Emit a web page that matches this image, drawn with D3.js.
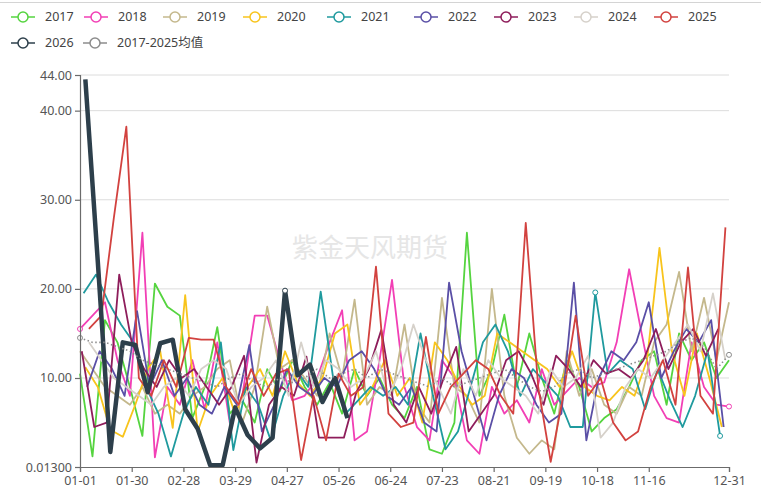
<!DOCTYPE html>
<html>
<head>
<meta charset="utf-8">
<script src="https://cdn.jsdelivr.net/npm/d3@7"></script>
<style>
  body { margin: 0; background: #fff; }
  svg text { font-family: "Noto Sans", "Noto Sans CJK SC", sans-serif; }
</style>
</head>
<body>
<div id="chart"></div>
<script>
// weekly values
var names = ['2017', '2018', '2019', '2020', '2021', '2022', '2023', '2024', '2025', '2026', '2017-2025均值']
var colors = ['#55d43f', '#f23fb5', '#c4b88c', '#f8c41c', '#1f9a9e', '#5a4fa6', '#8e1d5b', '#d6d1ca', '#d2423f', '#2d3f4b', '#8c8c8c']
var startDays = [0, 0, 0, 3, 2, 4, 1, 5, 5, 3, 0]

var v2017 = [10.5, 1.2, 16.5, 14, 9, 3.5, 20.6, 18, 17, 5.5, 9, 15.7, 6, 7.5, 5, 11, 8.5, 12, 9, 7, 9.5, 6, 11, 8, 10, 7, 5.5, 9, 2, 1.5, 5, 26.3, 8, 11, 17.1, 9, 15, 10, 6, 12, 9, 4, 5.5, 6.5, 9, 12, 13, 7, 15, 12, 14, 10, 12]
var v2018 = [15.5, 17, 18.5, 12, 8, 26.3, 1.1, 9, 7, 12, 6.5, 14, 5, 8, 17, 17, 12, 7.5, 8, 10, 14, 17.6, 3, 4, 12, 21, 9, 4.5, 3, 12, 10, 3, 1.5, 9, 6, 7.5, 5, 11, 7, 8.5, 10, 9, 9.5, 14, 22.2, 15, 8, 5.5, 5, 14, 9, 7, 6.8]
var v2019 = [13, 11, 9, 8, 7, 9, 6, 7, 6, 8, 9, 11, 12, 5, 9, 18, 11, 12, 10, 8, 15, 10, 18.8, 7, 9, 8, 16, 7, 5, 19, 9, 8, 5, 20, 8, 3.3, 1.5, 3, 2, 13, 8, 11, 7, 6, 9, 8, 14, 16, 21.9, 13, 19, 12, 18.5]
var v2020 = [11.2, 9, 4.2, 3.4, 7, 11, 13, 4.4, 19.3, 4, 8, 10, 6, 9, 11, 8, 13, 9.5, 8, 10, 15, 16, 7, 9, 12, 8, 10, 5, 14, 12, 9, 7, 8, 15, 14, 13, 12, 11, 9, 13, 9, 8, 7.5, 9, 8, 12, 24.6, 13, 8, 15, 10, 4.5]
var v2021 = [19.5, 21.6, 18.5, 16, 14, 9, 6, 1.2, 6, 9, 7, 14, 1.9, 9, 7, 3, 8, 11, 9, 19.7, 10, 6, 7.5, 9, 8, 9, 7, 15, 8, 2, 4, 9, 14, 16, 13, 8, 11, 9.5, 8, 4.5, 4.5, 19.6, 10.5, 12, 11, 6.5, 11, 7.5, 4.5, 8, 13, 3.5]
var v2022 = [9, 13, 11, 8, 17.5, 9, 12, 8, 10, 7, 6, 9, 7, 13.7, 4, 7, 11, 9, 8, 10, 9, 12, 13, 11, 8, 7, 9, 5, 4, 20.7, 13, 8, 3, 8, 11, 10, 7, 5, 6, 20.7, 3, 10, 13, 12, 14, 18.5, 10, 13, 15.5, 14, 16.5, 4.5]
var v2023 = [13, 4.5, 5, 21.6, 14, 11, 9, 12, 10, 11, 9, 7, 9, 12.5, 0.5, 7, 9, 8, 12.4, 3.3, 3.3, 3.3, 8.4, 11, 15.4, 7, 5, 9, 6, 10, 13.5, 4, 6, 8, 12, 13, 10.5, 7, 12.5, 11, 9, 12, 10.5, 11, 10, 12, 15.5, 11, 14, 15.5, 12.5, 15.5]
var v2024 = [14, 12, 10, 9, 8, 7, 9, 10, 8, 11, 12, 11, 7, 9, 10, 12, 8, 14, 9, 12, 11, 9, 10, 13, 8, 11, 16, 12, 9, 6, 11, 8, 12, 10, 9, 8, 6, 11, 9, 10, 12.5, 3.3, 5, 9, 11, 10, 12, 14, 16, 13, 19.5, 12]
var v2025 = [15.5, 17, 28, 38.2, 10, 8, 12, 9, 14.5, 14.3, 14.3, 9, 7, 11, 8, 10.5, 11, 0.8, 8, 3, 10.5, 8, 9, 22.5, 6, 4.5, 5, 14.6, 6, 9, 10.5, 12, 11, 8, 6, 27.4, 9, 0.6, 8, 17, 8, 10, 5, 3, 4, 9, 12, 7, 22.4, 8, 6, 26.9]
var v2026 = [43.5, 23, 1.7, 14, 13.7, 8.4, 13.9, 14.3, 6.5, 4.3, 0.2, 0.2, 6.7, 3.6, 2.1, 3.3, 19.8, 10.3, 11.5, 7.3, 10, 5.5]
var vAvg = [14.5, 14, 14, 13.5, 13, 12, 11.5, 11, 10.5, 10, 9.5, 9, 10, 10.5, 9.5, 9, 10, 9.5, 10, 11, 10, 10.5, 11, 10, 11, 10.5, 10, 9.5, 9, 10, 9, 9.5, 10, 10.5, 11, 10, 9, 8.5, 9, 10.5, 11, 10, 10.5, 11, 11.5, 12, 12.5, 13, 14, 14.5, 13.5, 11, 12.6]

var allValues = [v2017, v2018, v2019, v2020, v2021, v2022, v2023, v2024, v2025, v2026, vAvg]

// the few hollow symbols that show in the picture: [series, point]
var shownSymbols = [[1, 0], [1, 52], [10, 0], [10, 52], [9, 16], [4, 41], [4, 51]]

var xTickDays = [0, 29, 58, 87, 116, 145, 174, 203, 232, 261, 290, 319, 364]
var xTickLabels = ['01-01', '01-30', '02-28', '03-29', '04-27', '05-26', '06-24', '07-23', '08-21', '09-19', '10-18', '11-16', '12-31']
var yTicks = [0.013, 10, 20, 30, 40, 44]
var yTickLabels = ['0.01300', '10.00', '20.00', '30.00', '40.00', '44.00']

var width = 761, height = 494
var margin = {left: 80, right: 32, top: 75, bottom: 27}

var svg = d3.select('#chart').append('svg')
  .attr('width', width).attr('height', height)

// thin frame line at the very top
svg.append('line')
  .attr('x1', 0).attr('x2', width).attr('y1', 2.5).attr('y2', 2.5)
  .attr('stroke', '#d4d4d4')

var x = d3.scaleLinear().domain([0, 364]).range([margin.left, width - margin.right])
var y = d3.scaleLinear().domain([0.013, 44]).range([height - margin.bottom, margin.top])

// grid
svg.append('g').selectAll('line')
  .data(yTicks.slice(1))
  .join('line')
  .attr('x1', x(0)).attr('x2', x(364))
  .attr('y1', d => y(d)).attr('y2', d => y(d))
  .attr('stroke', '#dcdcdc')

// watermark
svg.append('text')
  .attr('x', 292).attr('y', 257)
  .attr('font-size', 26)
  .attr('fill', '#e6e6e6')
  .text('紫金天风期货')

// lines
var line = d3.line()
  .x(d => x(d.day))
  .y(d => y(d.value))

var series = names.map(function(name, k) {
  return {
    name: name,
    color: colors[k],
    points: allValues[k].map((v, i) => ({day: startDays[k] + 7 * i, value: v}))
  }
})

var lineG = svg.append('g')
series.forEach(function(s, k) {
  var isNow = s.name == '2026'
  var isAvg = k == names.length - 1
  lineG.append('path')
    .attr('d', line(s.points))
    .attr('fill', 'none')
    .attr('stroke', s.color)
    .attr('stroke-width', isNow ? 4.5 : (isAvg ? 1.6 : 1.8))
    .attr('stroke-dasharray', isAvg ? '1.5,2.5' : null)
    .attr('stroke-linejoin', 'round')
})

lineG.selectAll('circle.sym')
  .data(shownSymbols)
  .join('circle')
  .attr('class', 'sym')
  .attr('cx', d => x(series[d[0]].points[d[1]].day))
  .attr('cy', d => y(series[d[0]].points[d[1]].value))
  .attr('r', 2.5)
  .attr('fill', '#fff')
  .attr('stroke', d => colors[d[0]])
  .attr('stroke-width', 1)

// axes
var yAxis = d3.axisLeft(y)
  .tickValues(yTicks)
  .tickFormat((d, i) => yTickLabels[i])
  .tickSize(5)
  .tickPadding(3)

var xAxis = d3.axisBottom(x)
  .tickValues(xTickDays)
  .tickFormat((d, i) => xTickLabels[i])
  .tickSize(5)
  .tickPadding(4)

var gy = svg.append('g')
  .attr('transform', 'translate(' + margin.left + ',0)')
  .call(yAxis)
var gx = svg.append('g')
  .attr('transform', 'translate(0,' + (height - margin.bottom) + ')')
  .call(xAxis)

;[gx, gy].forEach(function(g) {
  g.select('.domain').attr('stroke', '#6b6b6b').attr('stroke-width', 1.2)
  g.selectAll('.tick line').attr('stroke', '#6b6b6b').attr('stroke-width', 1.2)
  g.selectAll('.tick text').attr('fill', '#555').attr('font-size', 12.5)
    .style('font-family', '"Noto Sans", "Noto Sans CJK SC", sans-serif')
})

// legend
var legendPos = [
  [45, 17], [118, 17], [197, 17], [277, 17], [361, 17], [448, 17], [528, 17], [608, 17], [688, 17],
  [45, 43], [117, 43]
]

var legend = svg.append('g')
series.forEach(function(s, k) {
  var p = legendPos[k]
  var g = legend.append('g').attr('transform', 'translate(' + p[0] + ',' + p[1] + ')')
  g.append('line')
    .attr('x1', -34).attr('x2', -10).attr('y1', 0).attr('y2', 0)
    .attr('stroke', s.color).attr('stroke-width', 1.5)
  g.append('circle')
    .attr('cx', -22).attr('cy', 0).attr('r', 5)
    .attr('fill', '#fff').attr('stroke', s.color).attr('stroke-width', 1.5)
  g.append('text')
    .attr('x', 0).attr('y', 0).attr('dy', '0.35em')
    .attr('font-size', 12.5).attr('fill', '#444')
    .text(s.name)
})
</script>
</body>
</html>
